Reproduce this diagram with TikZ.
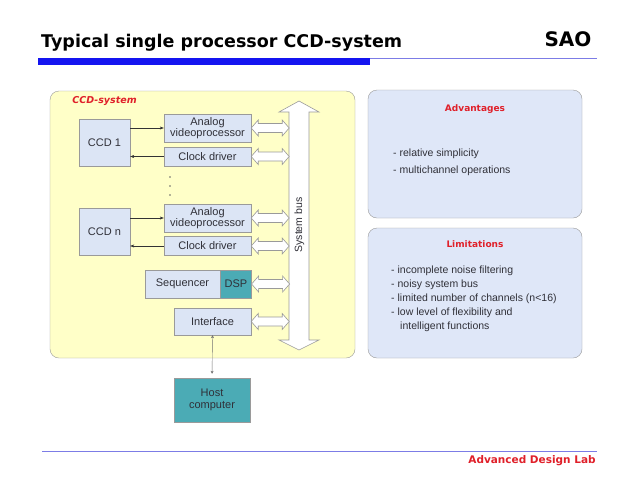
\documentclass[tikz,border=0pt]{standalone}
\usepackage{fontspec}
\setmainfont{Liberation Sans}
\newfontfamily\titlefont{DejaVu Sans}
\usetikzlibrary{positioning,arrows.meta}

\definecolor{panelyellow}{HTML}{FFFFC8}
\definecolor{boxblue}{HTML}{DCE5F5}
\definecolor{sidefill}{HTML}{DFE7F8}
\definecolor{dspteal}{HTML}{4BABB5}
\definecolor{framegray}{HTML}{9A9A9A}
\definecolor{textgray}{HTML}{303038}
\definecolor{labelred}{HTML}{E0202A}
\definecolor{ruleblue}{HTML}{1414F0}
\definecolor{thinblue}{HTML}{7C7CE6}

\begin{document}
\begin{tikzpicture}[x=1pt,y=-1pt,
  block/.style={draw=framegray,fill=boxblue,text=textgray,inner sep=0pt,align=center,font=\fontsize{11}{11.5}\selectfont},
  tealblock/.style={block,fill=dspteal},
  panel/.style={draw=framegray,rounded corners=9pt,inner sep=0pt},
  redhead/.style={text=labelred,font=\titlefont\bfseries\fontsize{9}{10}\selectfont},
  item/.style={anchor=west,inner sep=0pt,text=textgray,font=\fontsize{10.5}{12}\selectfont},
  link/.style={->,>={Stealth[length=4pt,width=3pt]},black!80,thin},
  busline/.style={draw=framegray,fill=white,line width=0.6pt},
  dblarrow/.pic={\path[busline] (0,0) -- (7,-8) -- (7,-4.5) -- (31,-4.5) -- (31,-8) -- (38,0)
    -- (31,8) -- (31,4.5) -- (7,4.5) -- (7,8) -- cycle;}
]
\fill[white] (0,0) rectangle (640,480);
\useasboundingbox (0,0) rectangle (640,480);

% header and footer
\node (title) [anchor=west,inner sep=0pt,font=\titlefont\bfseries\fontsize{17.5}{20}\selectfont] at (41,43) {Typical single processor CCD-system};
\node (sao) [inner sep=0pt,font=\titlefont\bfseries\fontsize{20}{22}\selectfont] at (568,39) {SAO};
\fill[ruleblue] (38,58) rectangle (370,65);
\draw[thinblue,line width=1pt] (370,58.5) -- (597,58.5);
\draw[thinblue,line width=1pt] (42,451.5) -- (597,451.5);
\node (lab) [inner sep=0pt,text=labelred,font=\titlefont\bfseries\fontsize{10.5}{12}\selectfont] at (532,461) {Advanced Design Lab};

% CCD-system panel
\node (ccdsys) [panel,fill=panelyellow,minimum width=305pt,minimum height=267pt] at (202.5,224.5) {};
\node (ccdlabel) [inner sep=0pt,text=labelred,font=\titlefont\bfseries\itshape\fontsize{9.5}{10}\selectfont] at (104.5,101) {CCD-system};

\node (ccd1) [block,minimum width=51pt,minimum height=47pt] at (104.5,142.5) {CCD 1};
\node (ccdn) [block,minimum width=51pt,minimum height=47pt] at (104.5,231.5) {CCD n};
\node (anvp1) [block,minimum width=87pt,minimum height=28pt] at (207.5,128) {Analog\\videoprocessor};
\node (clk1) [block,minimum width=87pt,minimum height=19pt] at (207.5,156.5) {Clock driver};
\node (anvpn) [block,minimum width=87pt,minimum height=28pt] at (207.5,218) {Analog\\videoprocessor};
\node (clkn) [block,minimum width=87pt,minimum height=19pt] at (207.5,246) {Clock driver};
\node (seq) [block,minimum width=75pt,minimum height=28pt] at (182.5,284) {Sequencer};
\node (dsp) [tealblock,minimum width=31pt,minimum height=28pt,right=0pt of seq] {DSP};
\node (iface) [block,minimum width=77pt,minimum height=27pt] at (212.5,321.5) {Interface};
\node (host) [tealblock,minimum width=76pt,minimum height=44pt] at (212,400) {Host\\computer};

\foreach \y in {177,186,195}
  \fill[black!60] (170,\y) circle (0.8);

\draw[link] (ccd1.east |- anvp1) -- (anvp1.west);
\draw[link] (clk1.west) -- (ccd1.east |- clk1);
\draw[link] (ccdn.east |- anvpn) -- (anvpn.west);
\draw[link] (clkn.west) -- (ccdn.east |- clkn);
\draw[link,black!55,<->,>={Stealth[length=3pt,width=3pt]},shorten <=4pt] (host.north) -- (iface.south);

% system bus
\path[busline] (299,101) -- (319,112) -- (309,112) -- (309,340) -- (319,340) -- (299,350)
  -- (279,340) -- (289,340) -- (289,112) -- (279,112) -- cycle;
\node (bus) [rotate=90,inner sep=0pt,text=textgray,font=\fontsize{10.5}{12}\selectfont] at (299.5,225) {System bus};
\foreach \n in {anvp1,clk1,anvpn,clkn,dsp,iface}
  \pic at (\n.east) {dblarrow};

% advantages and limitations
\node (adv) [panel,fill=sidefill,minimum width=214pt,minimum height=128pt] at (475,154) {};
\node (advhead) [redhead] at (475,109) {Advantages};
\node (a1) [item] at (393,154) {- relative simplicity};
\node (a2) [item] at (393,171) {- multichannel operations};

\node (lim) [panel,fill=sidefill,minimum width=214pt,minimum height=130pt] at (475,293) {};
\node (limhead) [redhead] at (475,244) {Limitations};
\node (l1) [item] at (391,271) {- incomplete noise filtering};
\node (l2) [item] at (391,285) {- noisy system bus};
\node (l3) [item] at (391,299) {- limited number of channels (n<16)};
\node (l4) [item] at (391,313) {- low level of flexibility and};
\node (l5) [item] at (400,327) {intelligent functions};
\end{tikzpicture}
\end{document}
